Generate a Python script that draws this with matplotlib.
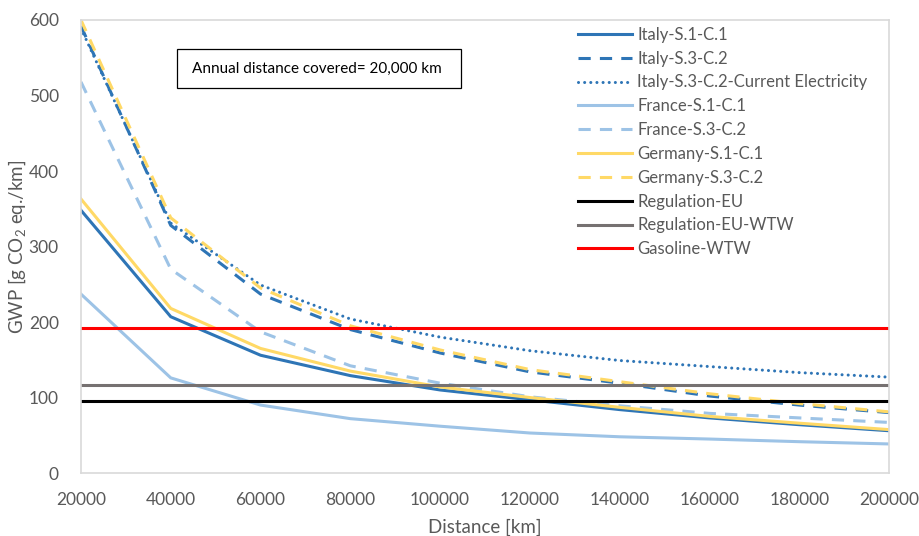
import matplotlib
matplotlib.use("Agg")
import matplotlib.pyplot as plt
from matplotlib.patches import Rectangle

plt.rcParams['font.family'] = ['Lato', 'DejaVu Sans']
plt.rcParams['mathtext.default'] = 'regular'

# Lifetime distance (km)
distance = [20000, 40000, 60000, 80000, 100000, 120000, 140000, 160000, 180000, 200000]

# GWP per km for each scenario (g CO2 eq./km)
italy_s1_c1 = [348, 207, 156, 129, 110, 97, 84, 73, 64, 56]
italy_s3_c2 = [592, 328, 237, 190, 159, 134, 119, 102, 90, 80]
italy_s3_c2_current = [589, 331, 249, 204, 180, 162, 149, 141, 133, 127]
france_s1_c1 = [237, 126, 90, 72, 62, 53, 48, 45, 41.5, 38.5]
france_s3_c2 = [518, 270, 187, 142, 119, 101, 89, 79, 73, 67]
germany_s1_c1 = [363, 218, 165, 135, 114, 100, 87, 75, 66, 57.5]
germany_s3_c2 = [600, 338, 245, 195, 163, 137, 121, 105, 92, 81]

# Reference levels (g CO2 eq./km)
regulation_eu = 95
regulation_eu_wtw = 117
gasoline_wtw = 192

x_ticks = [20000, 40000, 60000, 80000, 100000, 120000, 140000, 160000, 180000, 200000]
y_ticks = [0, 100, 200, 300, 400, 500, 600]

DARK_BLUE = '#2E75B6'
LIGHT_BLUE = '#9DC3E6'
YELLOW = '#FFD966'
TEXT_GRAY = '#595959'
LW = 2.2
DASH = (0, (4, 3))
DOT = (0, (0.01, 2))

fig = plt.figure(figsize=(9.19, 5.36), dpi=100)
ax = fig.add_axes([0.0881, 0.1175, 0.8793, 0.8452])

series = [
    (italy_s1_c1, DARK_BLUE, '-', 'Italy-S.1-C.1'),
    (italy_s3_c2, DARK_BLUE, DASH, 'Italy-S.3-C.2'),
    (italy_s3_c2_current, DARK_BLUE, DOT, 'Italy-S.3-C.2-Current Electricity'),
    (france_s1_c1, LIGHT_BLUE, '-', 'France-S.1-C.1'),
    (france_s3_c2, LIGHT_BLUE, DASH, 'France-S.3-C.2'),
    (germany_s1_c1, YELLOW, '-', 'Germany-S.1-C.1'),
    (germany_s3_c2, YELLOW, DASH, 'Germany-S.3-C.2'),
]
for values, color, ls, label in series:
    cap = 'round' if ls == DOT else 'butt'
    ax.plot(distance, values, color=color, linestyle=ls, linewidth=LW,
            label=label, dash_capstyle=cap, solid_joinstyle='miter')

for level, color, label in [(regulation_eu, 'black', 'Regulation-EU'),
                            (regulation_eu_wtw, '#767171', 'Regulation-EU-WTW'),
                            (gasoline_wtw, '#FF0000', 'Gasoline-WTW')]:
    ax.plot(distance, [level] * len(distance), color=color, linewidth=LW, label=label)

ax.set_xlim(20000, 200000)
ax.set_ylim(0, 600)
ax.set_xticks(x_ticks)
ax.set_yticks(y_ticks)
ax.set_xticklabels([str(v) for v in x_ticks])
ax.set_yticklabels([str(v) for v in y_ticks])
ax.tick_params(length=0, labelsize=12.5, colors=TEXT_GRAY)
ax.tick_params(axis='x', pad=14)
ax.tick_params(axis='y', pad=16)
for sp in ax.spines.values():
    sp.set_color('#D9D9D9')
    sp.set_linewidth(1.2)

ax.set_xlabel('Distance [km]', fontsize=13.5, color=TEXT_GRAY, labelpad=7)
ax.set_ylabel('GWP [g CO$_2$ eq./km]', fontsize=13.5, color=TEXT_GRAY)
ax.yaxis.set_label_coords(-0.0655, 0.5)

# Annotation box
ax.add_patch(Rectangle((0.1188, 0.850), 0.351, 0.086, transform=ax.transAxes,
                       facecolor='white', edgecolor='black', linewidth=0.9, zorder=5))
ax.text(0.137, 0.893, 'Annual distance covered= 20,000 km', transform=ax.transAxes,
        fontsize=11, color='black', va='center', ha='left', zorder=6)

leg = ax.legend(loc='upper left', bbox_to_anchor=(0.615, 0.985), frameon=False,
                fontsize=12, handlelength=3.25, handletextpad=0.3,
                labelspacing=0.47, borderpad=0, borderaxespad=0)
for t in leg.get_texts():
    t.set_color(TEXT_GRAY)

fig.savefig('out.png', dpi=100)
